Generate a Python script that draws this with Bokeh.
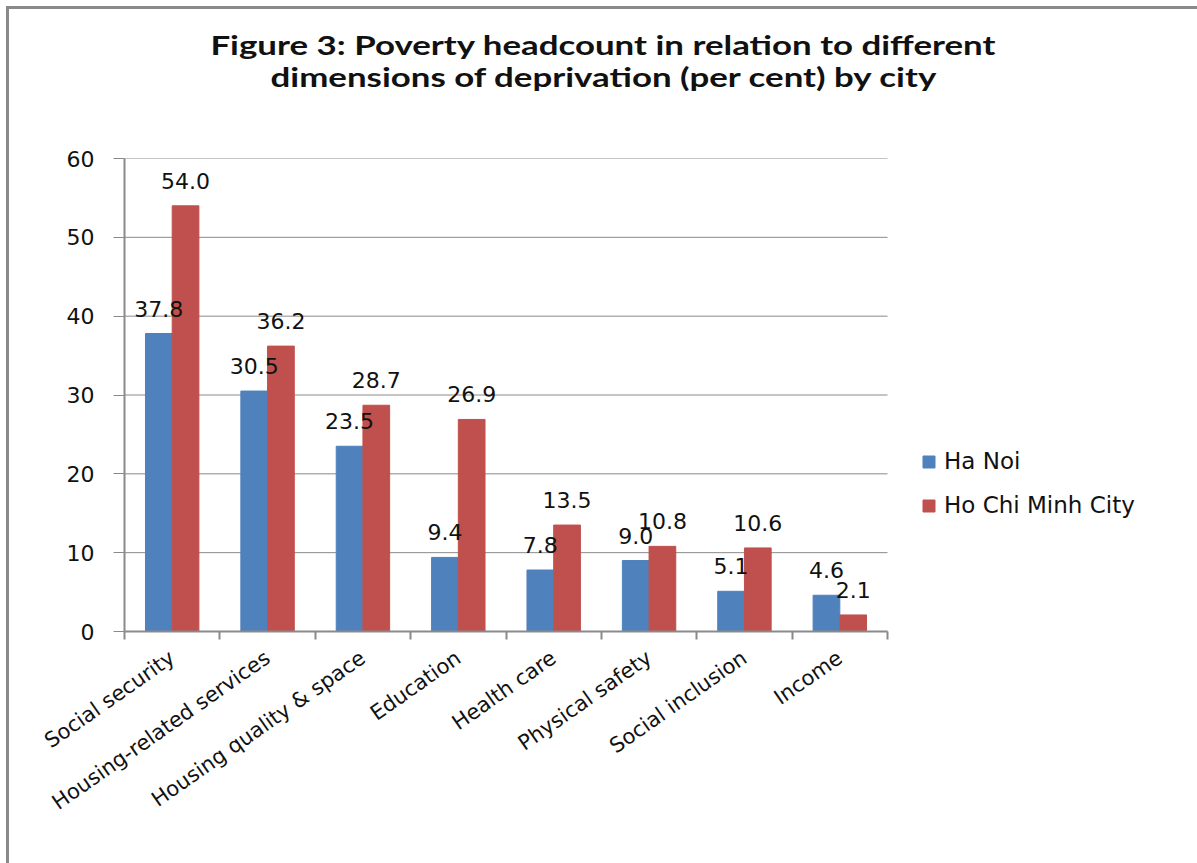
import math
import numpy as np
from bokeh.plotting import figure
from bokeh.models import (Range1d, FixedTicker, Legend, LegendItem, Div,
                          ColumnDataSource)
from bokeh.layouts import column
from bokeh.core.properties import value
from bokeh.embed import file_html
from bokeh.resources import INLINE

categories = ["Social security", "Housing-related services", "Housing quality & space",
              "Education", "Health care", "Physical safety", "Social inclusion", "Income"]
ha_noi = [37.8, 30.5, 23.5, 9.4, 7.8, 9.0, 5.1, 4.6]
hcmc = [54.0, 36.2, 28.7, 26.9, 13.5, 10.8, 10.6, 2.1]
series_names = ["Ha Noi", "Ho Chi Minh City"]
y_ticks = [0, 10, 20, 30, 40, 50, 60]
title_lines = ["Figure 3: Poverty headcount in relation to different",
               "dimensions of deprivation (per cent) by city"]

BLUE = "#4F81BD"
RED = "#C0504D"
GRID = "#8A8A8A"
FONT = "DejaVu Sans"

n = len(categories)
centers = np.arange(n) + 0.5
off = 0.14
bw = 0.28

W = 1188
TITLE_H = 100
H = 854 - TITLE_H
fl, fr, ft, fb = 115, 878, 149 - TITLE_H, 622 - TITLE_H
# the frame runs to the right edge so the legend can sit beside the bars
x_end = n * (W - fl) / (fr - fl)

p = figure(width=W, height=H, output_backend="svg", toolbar_location=None,
           x_range=Range1d(0, x_end), y_range=Range1d(0, 60),
           min_border_left=fl, min_border_right=0,
           min_border_top=ft, min_border_bottom=H - fb)
p.outline_line_color = None
p.background_fill_color = "white"
p.border_fill_color = "white"
p.xgrid.grid_line_color = None
p.ygrid.grid_line_color = None

# horizontal gridlines, only across the category area
p.segment(x0=[0] * len(y_ticks), x1=[n] * len(y_ticks), y0=y_ticks, y1=y_ticks,
          line_color=GRID, line_width=1)

src_a = ColumnDataSource(dict(x=centers - off, top=ha_noi, lab=[f"{v:.1f}" for v in ha_noi]))
src_b = ColumnDataSource(dict(x=centers + off, top=hcmc, lab=[f"{v:.1f}" for v in hcmc]))

ra = p.vbar(x="x", top="top", width=bw, bottom=0, source=src_a, fill_color=BLUE, line_color=BLUE)
rb = p.vbar(x="x", top="top", width=bw, bottom=0, source=src_b, fill_color=RED, line_color=RED)

for src in (src_a, src_b):
    p.text(x="x", y="top", text="lab", source=src, text_align="center",
           text_baseline="alphabetic", y_offset=-25, text_font=value(FONT),
           text_font_size="22px", text_color="#111111")

# axes
xa = p.xaxis[0]
xa.bounds = (0, n)
xa.ticker = FixedTicker(ticks=list(centers), minor_ticks=list(range(n + 1)))
xa.major_label_overrides = {float(c): cat for c, cat in zip(centers, categories)}
xa.major_tick_line_color = None
xa.minor_tick_line_color = GRID
xa.minor_tick_line_width = 2
xa.minor_tick_out = 8
xa.minor_tick_in = 0
xa.axis_line_color = GRID
xa.axis_line_width = 2
xa.major_label_orientation = math.radians(35)
xa.major_label_text_font = FONT
xa.major_label_text_font_size = "21px"
xa.major_label_text_color = "#111111"
xa.major_label_standoff = 16

ya = p.yaxis[0]
ya.ticker = FixedTicker(ticks=y_ticks)
ya.minor_tick_line_color = None
ya.major_tick_line_color = GRID
ya.major_tick_out = 11
ya.major_tick_in = 0
ya.axis_line_color = GRID
ya.axis_line_width = 2
ya.major_label_text_font = FONT
ya.major_label_text_font_size = "22px"
ya.major_label_text_color = "#111111"
ya.major_label_standoff = 19

legend = Legend(items=[LegendItem(label=series_names[0], renderers=[ra]),
                       LegendItem(label=series_names[1], renderers=[rb])],
                location=(797, 113), padding=0, margin=0,
                glyph_width=15, glyph_height=15, label_height=22,
                spacing=18, label_standoff=8,
                label_text_font=FONT, label_text_font_size="23px",
                label_text_color="#111111",
                border_line_color=None, background_fill_alpha=0)
p.add_layout(legend, "center")

line_style = ("display:block;height:32px;line-height:32px;text-align:center;"
              "white-space:nowrap;")
inner_style = ("display:inline-block;transform:scaleX(1.34);transform-origin:center;"
               "font-family:Lato;font-weight:bold;font-size:26px;color:#111;")
title_html = ('<div style="padding-top:20px;width:%dpx;">' % W
              + "".join('<div style="%s"><span style="%s">%s</span></div>'
                        % (line_style, inner_style, t) for t in title_lines)
              + "</div>")
title = Div(text=title_html, width=W, height=TITLE_H, margin=0,
            styles={"background-color": "white"})

lay = column(title, p, spacing=0,
             styles={"border-style": "solid none none solid", "border-width": "3px",
                     "border-color": "#8A8A8A", "margin-left": "6px", "margin-top": "6px",
                     "background-color": "white"})

open("out.html", "w").write(file_html(lay, INLINE))
